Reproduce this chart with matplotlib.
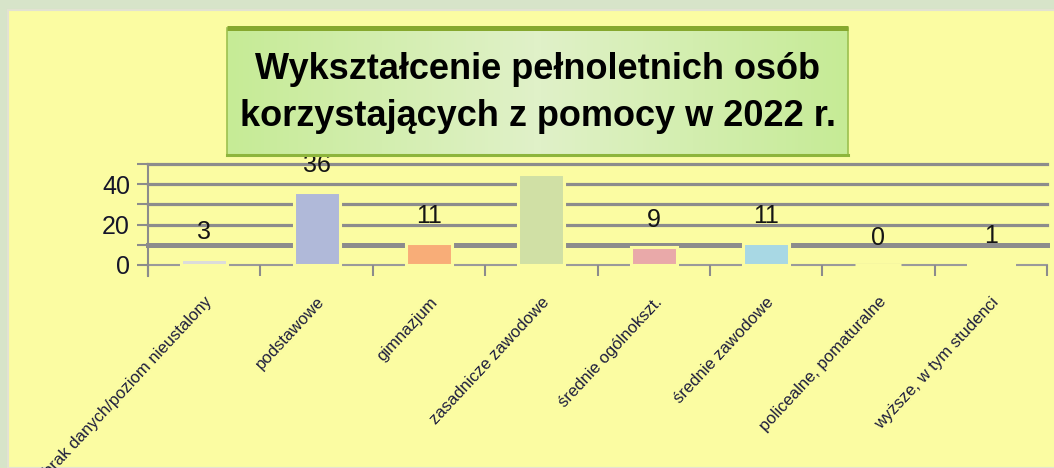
import numpy as np
import matplotlib
matplotlib.use('Agg')
import matplotlib.pyplot as plt
from matplotlib.patches import Rectangle
from matplotlib.colors import LinearSegmentedColormap

plt.rcParams['font.family'] = ['Liberation Sans', 'DejaVu Sans']

# data
categories = ['brak danych/poziom nieustalony', 'podstawowe', 'gimnazjum',
              'zasadnicze zawodowe', 'średnie ogólnokszt.', 'średnie zawodowe',
              'policealne, pomaturalne', 'wyższe, w tym studenci']
values = [3, 36, 11, 45, 9, 11, 0, 1]
bar_colors = ['#dcdcdc', '#b0b9d9', '#f8ad78', '#d0e0a5',
              '#e9a9a9', '#a8d8e4', '#c8b4d8', '#f0d890']
title = 'Wykształcenie pełnoletnich osób\nkorzystających z pomocy w 2022 r.'

W, H = 1054, 468
yellow = '#fbfca2'
grid_col = '#8c8c8c'

fig = plt.figure(figsize=(W / 100, H / 100), dpi=100)
fig.patch.set_facecolor('#d7e4c9')
# yellow panel
fig.add_artist(Rectangle((8 / W, 0), 1, (H - 10) / H, transform=fig.transFigure,
                         facecolor=yellow, edgecolor='#e2e2d2', lw=1.5, zorder=-1))

# main axes
ax = fig.add_axes([148 / W, (H - 265) / H, 899 / W, 101 / H])
ax.set_facecolor('none')
x = np.arange(len(categories))
ax.set_xlim(-0.5, len(categories) - 0.5)
ax.set_ylim(0, 50)

# gridlines
for g in [10, 20, 30, 40, 50]:
    ax.axhline(g, color=grid_col, lw=3.6 if g == 10 else 2.3, zorder=1, clip_on=False)
ax.axhline(0, color='#9a9a9a', lw=1.5, zorder=1, clip_on=False)

ax.bar(x, values, width=0.41, color=bar_colors, edgecolor=yellow, linewidth=2.2,
       zorder=2, clip_on=False)

for xi, v in zip(x, values):
    ax.text(xi, v + 13.5, str(v), ha='center', va='center', fontsize=18,
            color='#151515', zorder=3)

for s in ['top', 'right', 'bottom']:
    ax.spines[s].set_visible(False)
ax.spines['left'].set_color(grid_col)
ax.spines['left'].set_linewidth(1.5)
ax.spines['left'].set_bounds(-5.5, 50)
ax.spines['left'].set_zorder(1)

ax.set_yticks([0, 10, 20, 30, 40, 50])
ax.set_yticklabels(['0', '', '20', '', '40', ''])
ax.tick_params(axis='y', length=8, width=1.5, color=grid_col, pad=5,
               labelsize=18, labelcolor='#15152a')

ax.set_xticks(x)
ax.set_xticklabels(categories)
ax.set_xticks(np.arange(-0.5, len(categories)), minor=True)
ax.tick_params(axis='x', which='major', length=0, pad=21, labelsize=12,
               labelcolor='#1c1c3c')
ax.tick_params(axis='x', which='minor', length=8, width=1.5, color=grid_col)
plt.setp(ax.get_xticklabels(), rotation=47, ha='right', rotation_mode='anchor')

# title box
tax = fig.add_axes([227 / W, (H - 155) / H, 621 / W, 127 / H], zorder=5)
grad = np.abs(np.linspace(-1, 1, 200)).reshape(1, -1)
cmap = LinearSegmentedColormap.from_list('tb', ['#e0f1c8', '#c6eb96'])
tax.imshow(grad, cmap=cmap, aspect='auto', extent=[0, 1, 0, 1])
tax.set_xlim(0, 1)
tax.set_ylim(0, 1)
tax.set_xticks([])
tax.set_yticks([])
tax.spines['top'].set_linewidth(3.6)
tax.spines['top'].set_color('#86a82e')
tax.spines['top'].set_capstyle('butt')
tax.spines['bottom'].set_linewidth(2.2)
tax.spines['bottom'].set_color('#8db53c')
for s in ['left', 'right']:
    tax.spines[s].set_linewidth(1.2)
    tax.spines[s].set_color('#9cc050')
tax.text(0.5, 0.49, title, ha='center', va='center', fontsize=26,
         fontweight='bold', color='black', linespacing=1.45,
         transform=tax.transAxes)

fig.savefig('out.png', dpi=100, facecolor=fig.get_facecolor())
